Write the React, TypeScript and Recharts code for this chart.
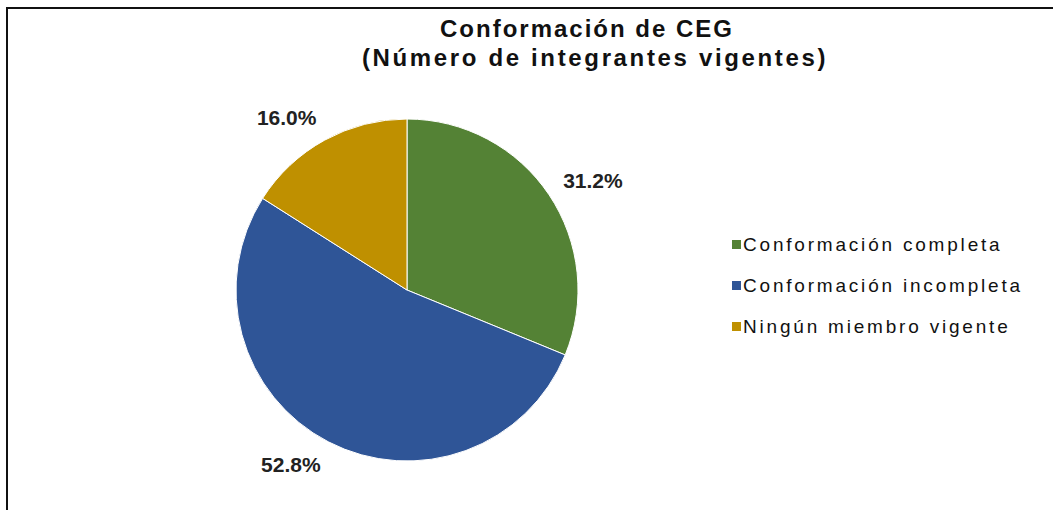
import { Pie, PieChart, Cell } from "recharts";

const categories = [
  "Conformación completa",
  "Conformación incompleta",
  "Ningún miembro vigente",
];
const shares = [31.2, 52.8, 16.0];
const colors = ["#548235", "#2F5597", "#BF9000"];

const titleLines = ["Conformación de CEG", "(Número de integrantes vigentes)"];

const data = categories.map((name, i) => ({ name, value: shares[i] }));

const RADIAN = Math.PI / 180;
const FONT = "Liberation Sans, Arial, sans-serif";

// label box sits just outside the slice edge, pushed out along the mid angle
function renderLabel(props: any) {
  const { cx, cy, midAngle, outerRadius, value } = props;
  const r = outerRadius + 17;
  const cos = Math.cos(-midAngle * RADIAN);
  const sin = Math.sin(-midAngle * RADIAN);
  const x = cx + r * cos;
  const y = cy + r * sin + sin * 9;
  return (
    <text
      x={x}
      y={y}
      textAnchor={cos >= 0 ? "start" : "end"}
      dominantBaseline="central"
      fill="#222"
      fontSize={21}
      fontWeight="bold"
      fontFamily={FONT}
    >
      {value.toFixed(1) + "%"}
    </text>
  );
}

export default function App() {
  return (
    <div style={{ position: "absolute", left: 0, top: 0, width: 1053, height: 510, background: "#fff", overflow: "hidden" }}>
      <div
        style={{
          position: "absolute",
          left: 6,
          top: 7,
          width: 1100,
          height: 600,
          borderTop: "2px solid #111",
          borderLeft: "2px solid #111",
        }}
      />
      <div
        style={{
          position: "absolute",
          left: 0,
          top: 14,
          width: 1186,
          textAlign: "center",
          fontFamily: FONT,
          fontWeight: "bold",
          fontSize: 24,
          lineHeight: "29px",
          color: "#111",
        }}
      >
        <div style={{ position: "relative", left: -6, letterSpacing: 2 }}>{titleLines[0]}</div>
        <div style={{ position: "relative", left: 2, letterSpacing: 2.65 }}>{titleLines[1]}</div>
      </div>
      <div style={{ position: "absolute", left: 0, top: 0 }}>
        <PieChart width={1053} height={510} margin={{ top: 0, right: 0, bottom: 0, left: 0 }}>
          <Pie
            data={data}
            dataKey="value"
            nameKey="name"
            cx={407}
            cy={290}
            outerRadius={171}
            startAngle={90}
            endAngle={-270}
            stroke="#fff"
            strokeWidth={1}
            label={renderLabel}
            labelLine={false}
            isAnimationActive={false}
          >
            {data.map((d, i) => (
              <Cell key={d.name} fill={colors[i]} />
            ))}
          </Pie>
        </PieChart>
      </div>
      <div style={{ position: "absolute", left: 732, top: 224 }}>
        {categories.map((name, i) => (
          <div
            key={name}
            style={{
              display: "flex",
              alignItems: "center",
              height: 41,
              fontFamily: FONT,
              fontSize: 19,
              letterSpacing: 2.8,
              color: "#111",
              whiteSpace: "nowrap",
            }}
          >
            <span
              style={{
                width: 9,
                height: 9,
                background: colors[i],
                marginRight: 2,
                display: "inline-block",
              }}
            />
            {name}
          </div>
        ))}
      </div>
    </div>
  );
}
